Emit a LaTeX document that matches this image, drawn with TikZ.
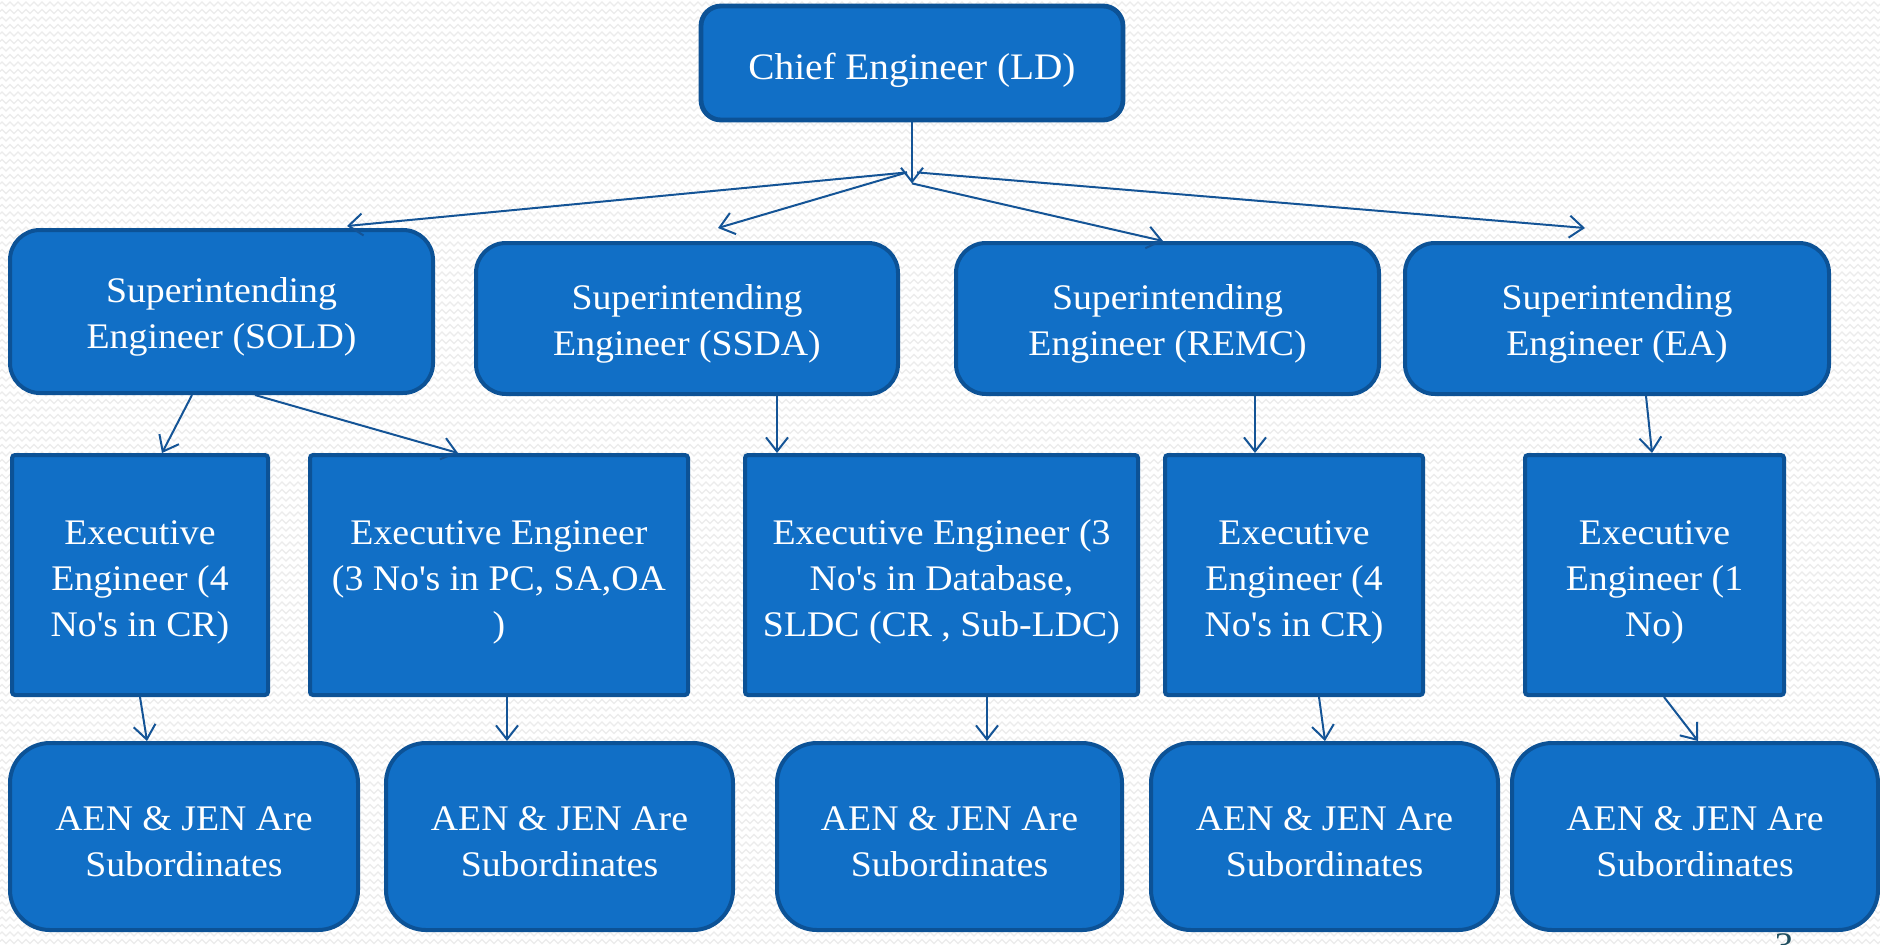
\documentclass[tikz,border=0pt]{standalone}
\usepackage{fontspec}
\setmainfont{Liberation Serif}[FakeStretch=1.05]
\usetikzlibrary{arrows.meta,calc,decorations.pathmorphing}

\definecolor{boxfill}{RGB}{17,111,198}
\definecolor{boxline}{RGB}{12,82,150}
\definecolor{linkcol}{RGB}{20,84,150}
\definecolor{bgwave}{RGB}{236,236,236}
\definecolor{pagenum}{RGB}{31,78,95}

% centred lines of a box label, set a little below the box centre
\newcommand\boxlines[2][3pt]{%
  \raisebox{-#1}[\height][\depth]{\begin{tabular}{@{}c@{}}#2\end{tabular}}}

\tikzset{
  unit/.style={x=0.5pt,y=-0.5pt},
  orgbox/.style={draw=boxline,fill=boxfill,line width=2pt,text=white,
    inner sep=0pt,font=\fontsize{18}{23}\selectfont},
  chiefbox/.style={orgbox,rounded corners=10pt,line width=2.4pt,
    font=\fontsize{18.7}{24}\selectfont},
  sebox/.style={orgbox,rounded corners=15pt,minimum height=75.5pt},
  eebox/.style={orgbox,rounded corners=1.5pt,minimum height=120pt},
  subbox/.style={orgbox,rounded corners=20pt,minimum height=93.5pt},
  link/.style={draw=linkcol,line width=1pt,
    -{Straight Barb[length=7pt,width=11pt,line width=1pt]}},
}

\begin{document}
\begin{tikzpicture}[unit]
  % page and its faint wave texture
  \useasboundingbox (0,0) rectangle (1880,944);
  \fill[white] (0,0) rectangle (1880,944);
  \foreach \r in {4,11.5,...,944}
    \draw[bgwave,line width=0.6pt,
      decorate,decoration={zigzag,segment length=4pt,amplitude=1pt}]
      (0,\r) -- (1880,\r);

  % chief
  \node[chiefbox,minimum width=211pt,minimum height=57pt] (chief) at (912,63)
    {\boxlines[3.5pt]{Chief Engineer (LD)}};

  % superintending engineers
  \node[sebox,minimum width=211.5pt,minimum height=81.5pt] (sold) at (221.5,311.5)
    {\boxlines[2.5pt]{Superintending\\Engineer (SOLD)}};
  \node[sebox,minimum width=211pt] (ssda) at (687,318.5)
    {\boxlines[2.5pt]{Superintending\\Engineer (SSDA)}};
  \node[sebox,minimum width=211.5pt] (remc) at (1167.5,318.5)
    {\boxlines[2.5pt]{Superintending\\Engineer (REMC)}};
  \node[sebox,minimum width=212pt] (ea) at (1617,318.5)
    {\boxlines[2.5pt]{Superintending\\Engineer (EA)}};

  % executive engineers
  \node[eebox,minimum width=128pt] (ee1) at (140,575)
    {\boxlines{Executive\\Engineer (4\\No\textquotesingle s in CR)}};
  \node[eebox,minimum width=189pt] (ee2) at (499,575)
    {\boxlines{Executive Engineer\\(3 No\textquotesingle s in PC, SA,OA\\)}};
  \node[eebox,minimum width=196.5pt] (ee3) at (941.5,575)
    {\boxlines{Executive Engineer (3\\No\textquotesingle s in Database,\\SLDC (CR , Sub-LDC)}};
  \node[eebox,minimum width=129pt] (ee4) at (1294,575)
    {\boxlines{Executive\\Engineer (4\\No\textquotesingle s in CR)}};
  \node[eebox,minimum width=129.5pt] (ee5) at (1654.5,575)
    {\boxlines{Executive\\Engineer (1\\No)}};

  % subordinates
  \node[subbox,minimum width=174pt] (a1) at (184,836.5)
    {\boxlines[4pt]{AEN \& JEN Are\\Subordinates}};
  \node[subbox,minimum width=173.5pt] (a2) at (559.5,836.5)
    {\boxlines[4pt]{AEN \& JEN Are\\Subordinates}};
  \node[subbox,minimum width=172.5pt] (a3) at (949.5,836.5)
    {\boxlines[4pt]{AEN \& JEN Are\\Subordinates}};
  \node[subbox,minimum width=173.5pt] (a4) at (1324.5,836.5)
    {\boxlines[4pt]{AEN \& JEN Are\\Subordinates}};
  \node[subbox,minimum width=183pt] (a5) at (1695,836.5)
    {\boxlines[4pt]{AEN \& JEN Are\\Subordinates}};

  % slide number, partly below the page edge
  \node[text=pagenum,font=\fontsize{18}{20}\selectfont,anchor=north,inner sep=0pt]
    (pnum) at (1784,933) {3};

  % connectors
  \coordinate (hub) at ($(chief.south)+(0,61)$);
  \draw[link] (chief.south) -- (hub);
  \draw[link] ($(hub)+(-5,-11)$) -- ($(sold.north)+(125.5,-2)$);
  \draw[link] ($(hub)+(-5,-11)$) -- ($(ssda.north)+(31,-13)$);
  \draw[link] (hub) -- ($(remc.north)+(-4.5,0)$);
  \draw[link] ($(hub)+(5,-11)$) -- ($(ea.north)+(-32,-13)$);

  \draw[link] ($(sold.south)+(-29.5,0)$) -- ($(ee1.north)+(22,0)$);
  \draw[link] ($(sold.south)+(33.5,0)$) -- ($(ee2.north)+(-41,0)$);
  \draw[link] ($(ssda.south)+(90,0)$) -- ($(ee3.north)+(-164.5,0)$);
  \draw[link] ($(remc.south)+(87.5,0)$) -- ($(ee4.north)+(-39,0)$);
  \draw[link] ($(ea.south)+(29,0)$) -- ($(ee5.north)+(-2.5,0)$);

  \draw[link] (ee1.south) -- ($(a1.north)+(-37,0)$);
  \draw[link] ($(ee2.south)+(8,0)$) -- ($(a2.north)+(-52.5,0)$);
  \draw[link] ($(ee3.south)+(45.5,0)$) -- ($(a3.north)+(37.5,0)$);
  \draw[link] ($(ee4.south)+(25,0)$) -- ($(a4.north)+(0.5,0)$);
  \draw[link] ($(ee5.south)+(9.5,0)$) -- ($(a5.north)+(3,0)$);
\end{tikzpicture}
\end{document}
